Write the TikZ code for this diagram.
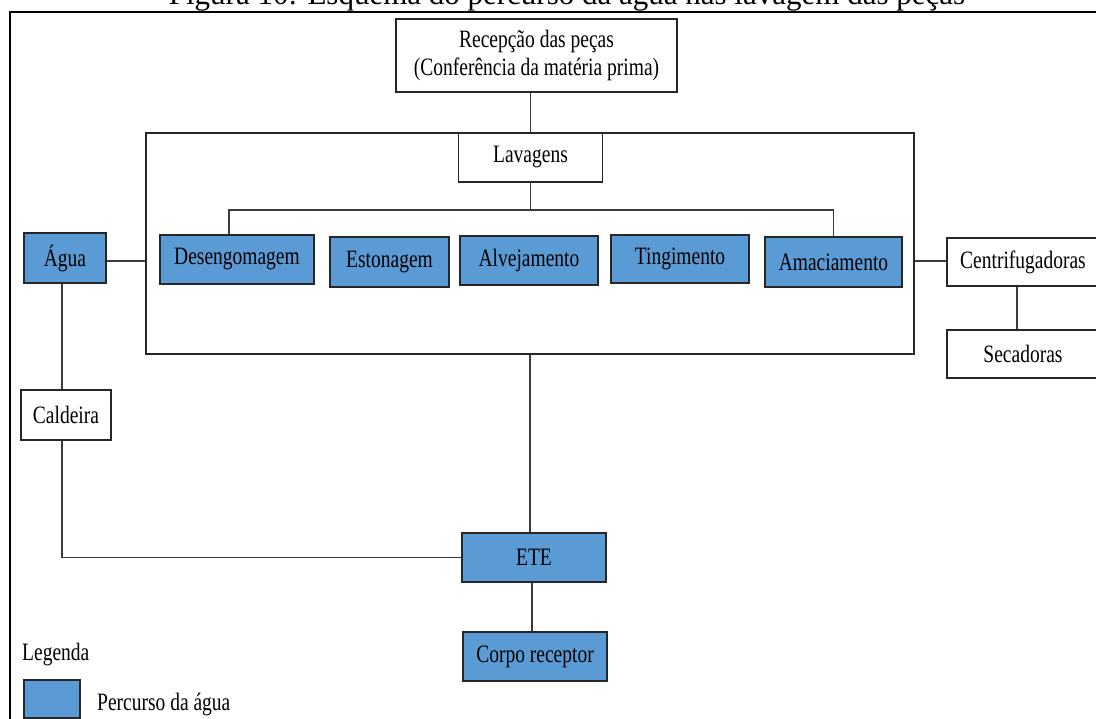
\documentclass[tikz,border=0pt]{standalone}
\usepackage{fontspec}
\setmainfont{Liberation Serif}
\newfontfamily\condfont[FakeStretch=0.78]{Liberation Serif}
\definecolor{wblue}{HTML}{5B9BD5}
\definecolor{lcol}{HTML}{3A3A3A}
\newcommand{\boxfont}{\condfont\fontsize{25}{28}\selectfont}
\tikzset{
  box/.style={draw=black!85, line width=1.6pt, fill=white, inner sep=0pt,
    font=\boxfont, align=center},
  bbox/.style={box, fill=wblue},
  conn/.style={draw=lcol, line width=1.4pt},
}
\begin{document}
\begin{tikzpicture}[x=1pt,y=-1pt]
\useasboundingbox (0,0) rectangle (1096,719);
\clip (0,0) rectangle (1096,719);
\fill[white] (0,0) rectangle (1096,719);
% title (cropped at the top)
\node[anchor=base, inner sep=0pt, font=\fontsize{31}{33}\selectfont] (title) at (567,5) {Figura 10: Esquema do percurso da água nas lavagem das peças};
% outer frame
\draw[line width=2.2pt, black] (10,740) -- (10,12) -- (1120,12);
% big washing box
\node[box, minimum width=768pt, minimum height=221pt] (wash) at (530,243.5) {};
% nodes
\node[box, minimum width=281pt, minimum height=73pt] (rec) at (536.5,55.5) {Recepção das peças\\(Conferência da matéria prima)};
\node[box, minimum width=144pt, minimum height=49pt] (lav) at (530.5,157.5) {Lavagens};
\node[bbox, minimum width=154pt, minimum height=49pt] (des) at (237,259.5) {Desengomagem};
\node[bbox, minimum width=119pt, minimum height=50pt] (est) at (389.5,262) {Estonagem};
\node[bbox, minimum width=138pt, minimum height=49pt] (alv) at (529,260.5) {Alvejamento};
\node[bbox, minimum width=138pt, minimum height=48pt] (tin) at (680,259) {Tingimento};
\node[bbox, minimum width=137pt, minimum height=50pt] (ama) at (833.5,262) {Amaciamento};
\node[bbox, minimum width=82pt, minimum height=50pt] (agua) at (65,258) {Água};
\node[box, minimum width=90pt, minimum height=50pt] (cald) at (66,415) {Caldeira};
\node[bbox, minimum width=144pt, minimum height=49pt] (ete) at (534,557.5) {ETE};
\node[bbox, minimum width=144pt, minimum height=49pt] (corpo) at (535,656.5) {Corpo receptor};
\node[box, minimum width=152pt, minimum height=48pt] (cent) at (1023,262) {Centrifugadoras};
\node[box, minimum width=152pt, minimum height=48pt] (sec) at (1023,354) {Secadoras};
\coordinate (bar) at (530.5,210);
% connectors
\draw[conn] (rec.south -| lav.north) -- (lav.north);
\draw[conn] (lav.south) -- (bar);
\draw[conn] ([xshift=-8pt]des.north) |- (bar) -| (ama.north);
\draw[conn] (agua.east |- 0,261) -- (wash.west |- 0,261);
\draw[conn] ([xshift=-3pt]agua.south) -- ([xshift=-3pt]agua.south |- cald.north);
\draw[conn] ([xshift=-4pt]cald.south) |- (ete.west);
\draw[conn] (wash.south) -- (wash.south |- ete.north);
\draw[conn] ([xshift=-2pt]ete.south) -- ([xshift=-2pt]ete.south |- corpo.north);
\draw[conn] (wash.east |- 0,261) -- (cent.west |- 0,261);
\draw[conn] ([xshift=-6pt]cent.south) -- ([xshift=-6pt]sec.north);
% legend
\node[anchor=base west, inner sep=0pt, font=\boxfont] (legt) at (22,660) {Legenda};
\node[bbox, minimum width=56pt, minimum height=38pt] (legbox) at (51.75,699) {};
\node[anchor=base west, inner sep=0pt, font=\boxfont] (legl) at (97,710) {Percurso da água};
\end{tikzpicture}
\end{document}
